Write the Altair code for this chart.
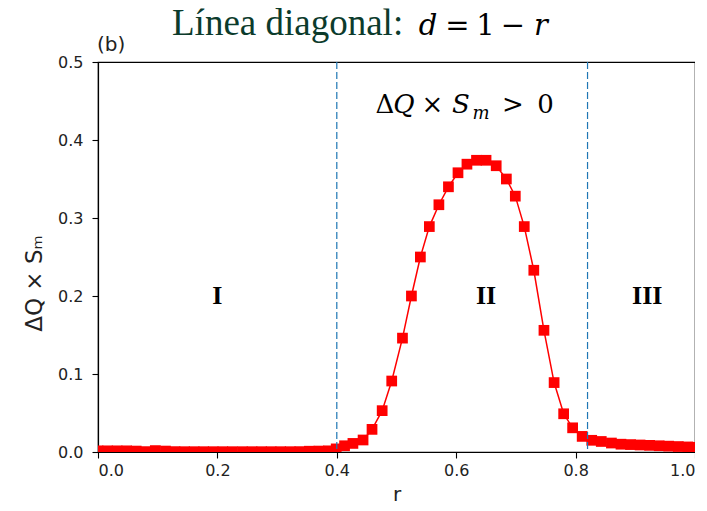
import altair as alt
import pandas as pd

# ---- data ----
r_vals = [0.000, 0.016, 0.032, 0.048, 0.064, 0.080, 0.096, 0.113, 0.129, 0.145,
          0.161, 0.177, 0.193, 0.209, 0.225, 0.242, 0.258, 0.274, 0.290, 0.306,
          0.322, 0.338, 0.354, 0.370, 0.386, 0.399, 0.413, 0.427, 0.444, 0.459,
          0.476, 0.492, 0.510, 0.525, 0.540, 0.555, 0.571, 0.587, 0.603, 0.618,
          0.634, 0.650, 0.667, 0.684, 0.699, 0.714, 0.730, 0.747, 0.764, 0.780,
          0.795, 0.811, 0.827, 0.843, 0.860, 0.876, 0.892, 0.908, 0.924, 0.940,
          0.956, 0.972, 0.988, 1.000]
dq_sm = [0.0015, 0.0015, 0.0015, 0.0015, 0.0012, 0.0005, 0.0018, 0.0012, 0.0005, 0.0004,
         0.0004, 0.0004, 0.0004, 0.0004, 0.0004, 0.0004, 0.0004, 0.0004, 0.0004, 0.0004,
         0.0004, 0.0005, 0.0010, 0.0012, 0.0015, 0.004, 0.008, 0.011, 0.0154, 0.029,
         0.053, 0.091, 0.146, 0.200, 0.250, 0.289, 0.317, 0.340, 0.358, 0.369,
         0.374, 0.374, 0.367, 0.350, 0.328, 0.289, 0.233, 0.156, 0.089, 0.049,
         0.031, 0.020, 0.015, 0.0135, 0.0115, 0.010, 0.0095, 0.009, 0.0085, 0.008,
         0.0075, 0.007, 0.0065, 0.006]

boundaries = [0.40, 0.82]
region_labels = ["I", "II", "III"]
region_r = [0.20, 0.65, 0.92]
region_y = [0.20, 0.20, 0.20]

x_ticks = [0.0, 0.2, 0.4, 0.6, 0.8, 1.0]
y_ticks = [0.0, 0.1, 0.2, 0.3, 0.4, 0.5]

df = pd.DataFrame({"r": r_vals, "v": dq_sm})
df_b = pd.DataFrame({"r": boundaries})
df_reg = pd.DataFrame({"lab": region_labels, "r": region_r, "v": region_y})

SERIF = "Liberation Serif"
MATH = "DejaVu Serif"
SANS = "DejaVu Sans"

x_enc = alt.X("r:Q", scale=alt.Scale(domain=[0, 1], nice=False),
              axis=alt.Axis(values=x_ticks, format=".1f", title="r",
                            titleFontSize=20, titleFont=SANS, titleFontWeight="normal",
                            titleBaseline="alphabetic", titleY=48,
                            labelPadding=4))
y_enc = alt.Y("v:Q", scale=alt.Scale(domain=[0, 0.5], nice=False),
              axis=alt.Axis(values=y_ticks, format=".1f", title="ΔQ × Sₘ",
                            titleFontSize=23, titleFont=SANS, titleFontWeight="normal",
                            titleAngle=270, titleBaseline="alphabetic", titleAlign="center",
                            titleX=-57, titleY=221, labelPadding=9))

base = alt.Chart(df)
line = base.mark_line(color="#ff0000", strokeWidth=1.5, clip=True).encode(x=x_enc, y=y_enc)
pts = base.mark_point(shape="square", filled=True, size=115, color="#ff0000",
                      opacity=1, clip=True).encode(x="r:Q", y="v:Q")
rules = alt.Chart(df_b).mark_rule(color="#1f77b4", strokeDash=[7, 3], strokeWidth=1.2).encode(x="r:Q")
regions = alt.Chart(df_reg).mark_text(font=SERIF, fontSize=26, fontWeight="bold",
                                      color="black", baseline="middle").encode(
    x="r:Q", y="v:Q", text="lab:N")


def txt(s, x, y, size, font=MATH, style="normal", weight="normal",
        color="black", align="center"):
    return alt.Chart(pd.DataFrame({"t": [s]})).mark_text(
        font=font, fontSize=size, fontStyle=style, fontWeight=weight,
        color=color, align=align, baseline="alphabetic").encode(
        x=alt.value(x), y=alt.value(y), text="t:N")


annots = [
    # top title
    txt("Línea diagonal:", 74, -27, 37, font=SERIF, color="#0c3b2c", align="left"),
    txt("d", 330, -27, 29, style="italic"),
    txt("=", 359.5, -27, 29),
    txt("1", 387.5, -27, 29),
    txt("−", 415, -27, 29),
    txt("r", 443, -27, 29, style="italic"),
    # panel label
    txt("(b)", -1, -11, 20, font=SANS, color="#222222", align="left"),
    # in-plot condition
    txt("Δ", 287, 51, 26),
    txt("Q", 306, 51, 26, style="italic"),
    txt("×", 334.5, 51, 26),
    txt("S", 363, 51, 26, style="italic"),
    txt("m", 383, 57, 18, style="italic"),
    txt(">", 415, 51, 26),
    txt("0", 447.5, 51, 26),
]

chart = alt.layer(line, pts, rules, regions, *annots).properties(
    width=597, height=390,
    autosize=alt.AutoSizeParams(type="none"),
    padding={"left": 90, "top": 54, "right": 0, "bottom": 58},
).configure_view(stroke="black", strokeWidth=1.2).configure_axis(
    grid=False, domainColor="black", domainWidth=1.2, tickColor="black",
    tickSize=6, tickWidth=1.1, labelFont=SANS, labelFontSize=16,
    labelColor="#222222", titleColor="#222222")

chart.save("out.html", embed_options={"renderer": "svg", "actions": False})
